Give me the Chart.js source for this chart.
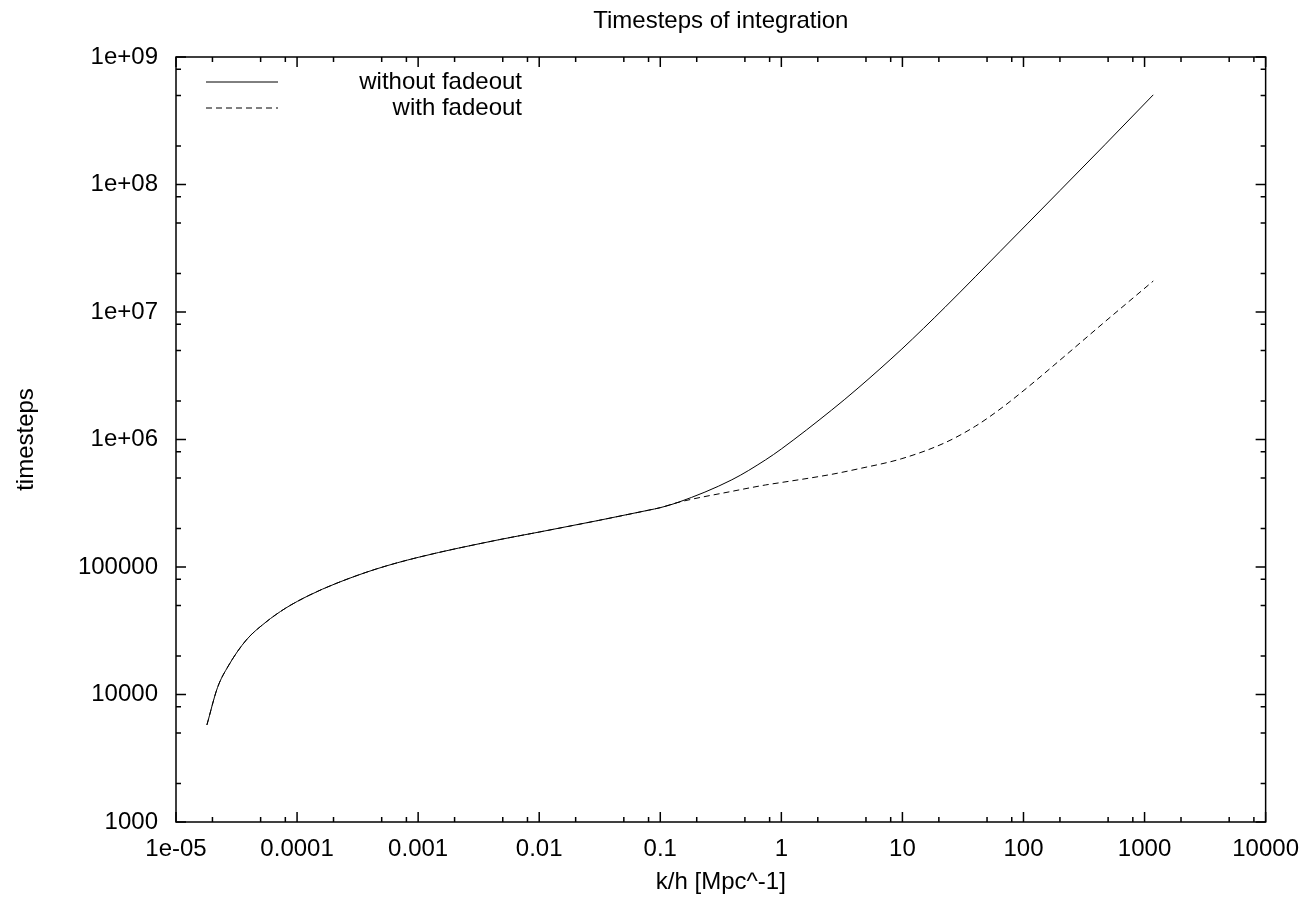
<!DOCTYPE html>
<html>
<head>
<meta charset="utf-8">
<script src="https://cdn.jsdelivr.net/npm/chart.js@4.4.1/dist/chart.umd.min.js"></script>
<style>
html,body{margin:0;padding:0;background:#fff;}
#wrap{width:1312px;height:904px;}
</style>
</head>
<body>
<div id="wrap"><canvas id="c" width="1312" height="904"></canvas></div>
<script>
// ---- data ----
const k = [1.8e-5, 2.2e-5, 2.7e-5, 3.8e-5, 5.5e-5, 8e-5, 1.26e-4, 2.1e-4, 4.5e-4, 1e-3,
           4.7e-3, 1e-2, 3.1e-2, 8e-2, 0.1, 0.14, 0.39, 0.74, 1.0, 2.6, 4.3,
           9.9, 22.5, 40, 64, 109, 200, 470, 1180];
const stepsWithoutFadeout = [5770, 11300, 16700, 26700, 36800, 47400, 60000, 74300, 96400, 119000,
           164000, 188000, 232000, 279000, 292000, 321000, 483000, 692000, 843000, 1700000, 2530000,
           5130000, 10900000, 18900000, 29800000, 49800000, 89600000, 205000000, 505000000];
const stepsWithFadeout = [5770, 11300, 16700, 26700, 36800, 47400, 60000, 74300, 96400, 119000,
           164000, 188000, 232000, 279000, 292000, 321000, 392000, 440000, 460000, 533000, 588000,
           708000, 944000, 1270000, 1730000, 2580000, 4190000, 8380000, 17500000];
const seriesLabels = ['without fadeout', 'with fadeout'];
const chartTitle = 'Timesteps of integration';
const xAxisTitle = 'k/h [Mpc^-1]';
const yAxisTitle = 'timesteps';
const xTickValues = [1e-5, 1e-4, 1e-3, 1e-2, 1e-1, 1, 10, 100, 1000, 10000];
const xTickLabels = ['1e-05', '0.0001', '0.001', '0.01', '0.1', '1', '10', '100', '1000', '10000'];
const yTickValues = [1e3, 1e4, 1e5, 1e6, 1e7, 1e8, 1e9];
const yTickLabels = ['1000', '10000', '100000', '1e+06', '1e+07', '1e+08', '1e+09'];
const minorMultipliers = [2, 5, 8];

const FONT = '"Liberation Sans", Arial, Helvetica, sans-serif';
Chart.defaults.font.family = FONT;
Chart.defaults.font.size = 24;
Chart.defaults.color = '#000';

const framePlugin = {
  id: 'gnuFrame',
  afterDatasetsDraw(chart) {
    const {ctx, chartArea: a, scales: {x, y}} = chart;
    ctx.save();
    ctx.strokeStyle = '#000';
    ctx.lineWidth = 1.5;
    ctx.setLineDash([]);
    ctx.strokeRect(a.left, a.top, a.right - a.left, a.bottom - a.top);
    ctx.beginPath();
    xTickValues.forEach(v => {
      const px = x.getPixelForValue(v);
      ctx.moveTo(px, a.bottom); ctx.lineTo(px, a.bottom - 10);
      ctx.moveTo(px, a.top); ctx.lineTo(px, a.top + 10);
      if (v < x.max) {
        minorMultipliers.forEach(m => {
          const p = x.getPixelForValue(v * m);
          ctx.moveTo(p, a.bottom); ctx.lineTo(p, a.bottom - 5);
          ctx.moveTo(p, a.top); ctx.lineTo(p, a.top + 5);
        });
      }
    });
    yTickValues.forEach(v => {
      const py = y.getPixelForValue(v);
      ctx.moveTo(a.left, py); ctx.lineTo(a.left + 10, py);
      ctx.moveTo(a.right, py); ctx.lineTo(a.right - 10, py);
      if (v < y.max) {
        minorMultipliers.forEach(m => {
          const p = y.getPixelForValue(v * m);
          ctx.moveTo(a.left, p); ctx.lineTo(a.left + 5, p);
          ctx.moveTo(a.right, p); ctx.lineTo(a.right - 5, p);
        });
      }
    });
    ctx.stroke();

    // gnuplot-style key inside the plot, top left
    ctx.font = '24px ' + FONT;
    ctx.textAlign = 'right';
    ctx.textBaseline = 'middle';
    ctx.fillStyle = '#000';
    chart.data.datasets.forEach((ds, i) => {
      const ly = a.top + 25 + i * 26;
      ctx.beginPath();
      ctx.lineWidth = 1;
      ctx.strokeStyle = '#000';
      ctx.setLineDash(ds.borderDash || []);
      ctx.moveTo(a.left + 30, ly);
      ctx.lineTo(a.left + 102, ly);
      ctx.stroke();
      ctx.fillText(ds.label, a.left + 346, ly);
    });
    ctx.restore();
  }
};

new Chart(document.getElementById('c'), {
  type: 'scatter',
  data: {
    datasets: [
      {
        label: seriesLabels[0],
        data: k.map((v, i) => ({x: v, y: stepsWithoutFadeout[i]})),
        showLine: true, borderColor: '#000', borderWidth: 1, pointRadius: 0,
        cubicInterpolationMode: 'monotone'
      },
      {
        label: seriesLabels[1],
        data: k.map((v, i) => ({x: v, y: stepsWithFadeout[i]})),
        showLine: true, borderColor: '#000', borderWidth: 1, borderDash: [6, 4], pointRadius: 0,
        cubicInterpolationMode: 'monotone'
      }
    ]
  },
  options: {
    responsive: false,
    animation: false,
    layout: {padding: {left: 0, right: 44, top: 0, bottom: 0}},
    plugins: {
      legend: {display: false},
      tooltip: {enabled: false},
      title: {
        display: true, text: chartTitle, fullSize: false,
        font: {size: 24, weight: 'normal'}, color: '#000',
        padding: {top: 7, bottom: 21.2}
      }
    },
    scales: {
      x: {
        type: 'logarithmic', min: 1e-5, max: 1e4,
        afterBuildTicks: s => { s.ticks = xTickValues.map(v => ({value: v})); },
        afterFit: s => { s.height = 82; },
        ticks: {
          autoSkip: false, maxRotation: 0, padding: 13,
          callback: (v) => { const i = xTickValues.findIndex(t => Math.abs(Math.log10(t) - Math.log10(v)) < 1e-6); return i >= 0 ? xTickLabels[i] : ''; }
        },
        grid: {display: false, drawTicks: false},
        border: {display: false},
        title: {display: true, text: xAxisTitle, font: {size: 24}, padding: {top: 0, bottom: 7}}
      },
      y: {
        type: 'logarithmic', min: 1e3, max: 1e9,
        afterBuildTicks: s => { s.ticks = yTickValues.map(v => ({value: v})); },
        afterFit: s => { s.width = 176; },
        ticks: {
          autoSkip: false, padding: 18,
          callback: (v) => { const i = yTickValues.findIndex(t => Math.abs(Math.log10(t) - Math.log10(v)) < 1e-6); return i >= 0 ? yTickLabels[i] : ''; }
        },
        grid: {display: false, drawTicks: false},
        border: {display: false},
        title: {display: true, text: yAxisTitle, font: {size: 24}, padding: {top: 11.6, bottom: 0}}
      }
    }
  },
  plugins: [framePlugin]
});
</script>
</body>
</html>
